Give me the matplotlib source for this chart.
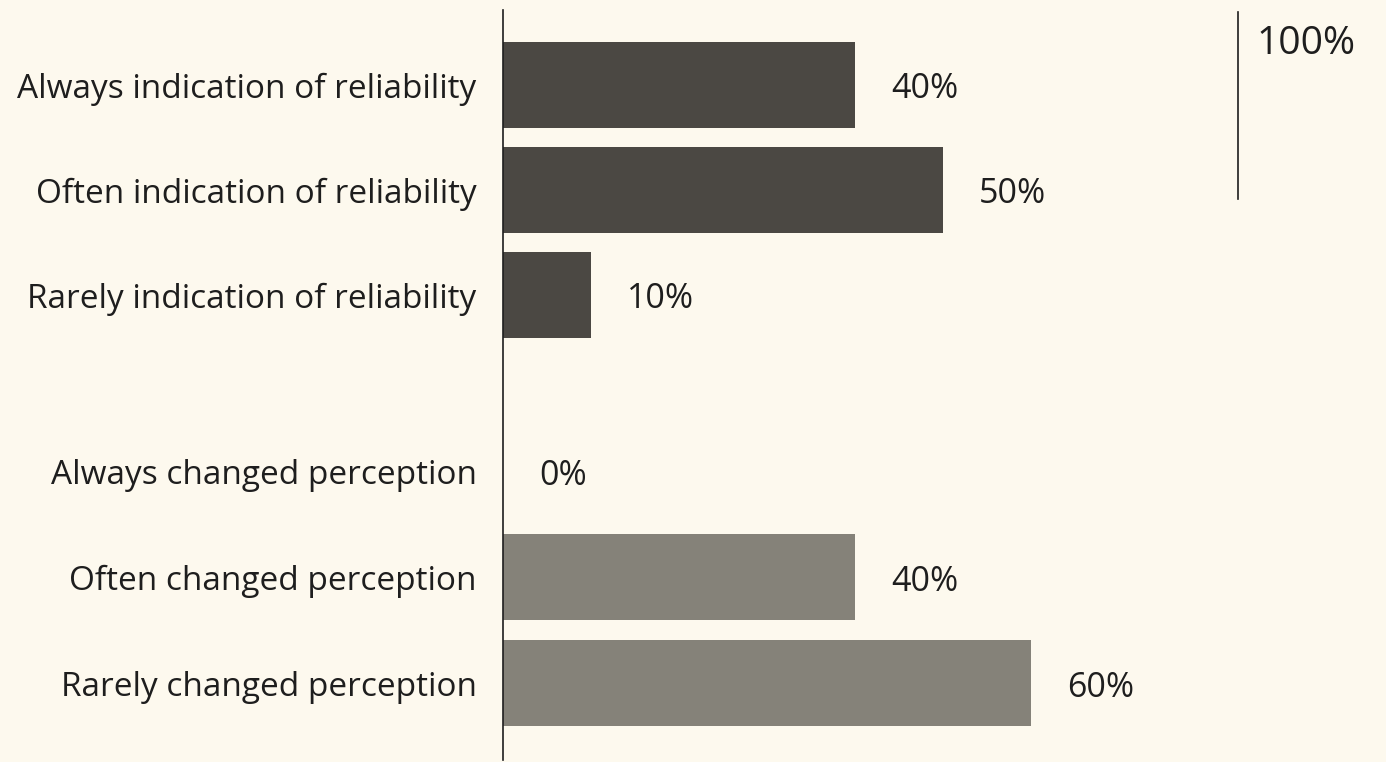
import matplotlib.pyplot as plt

categories = [
    "Always indication of reliability",
    "Often indication of reliability",
    "Rarely indication of reliability",
    "Always changed perception",
    "Often changed perception",
    "Rarely changed perception",
]
percent = [40, 50, 10, 0, 40, 60]
group = ["reliability", "reliability", "reliability",
         "perception", "perception", "perception"]

colors = {"reliability": "#4b4843", "perception": "#858279"}
bg = "#fdf9ee"

# second group sits a bit lower to leave a gap between the two blocks
ypos = [0, 1, 2, 3.68, 4.69, 5.70]

fig = plt.figure(figsize=(13.86, 7.62), dpi=100, facecolor=bg)
ax = fig.add_axes([0.3629, 0.0026, 0.635, 0.984])
ax.set_facecolor(bg)

ax.barh(ypos, percent, height=0.82,
        color=[colors[g] for g in group], edgecolor="none")

fn = {"family": "Open Sans", "color": "#1e1e1e"}
for y, v in zip(ypos, percent):
    ax.annotate(f"{v}%", (v, y), xytext=(26, -3), textcoords="offset points",
                ha="left", va="center", fontsize=24.5, **fn)

ax.set_xlim(0, 100)
ax.set_ylim(6.43, -0.714)
ax.set_yticks(ypos)
ax.set_yticklabels(categories, fontsize=24, **fn)
ax.tick_params(axis="y", length=0, pad=19)
ax.set_xticks([])
for s in ["top", "right", "bottom"]:
    ax.spines[s].set_visible(False)
ax.spines["left"].set_color("#1e1e1e")
ax.spines["left"].set_linewidth(1.2)

# scale marker at top right
ax.plot([0.8352, 0.8352], [0.997, 0.748], transform=ax.transAxes,
        color="#1e1e1e", lw=1.2, clip_on=False)
ax.text(0.856, 0.98, "100%", transform=ax.transAxes, ha="left", va="top",
        fontsize=28, **fn)

fig.savefig("out.png", dpi=100, facecolor=bg)
